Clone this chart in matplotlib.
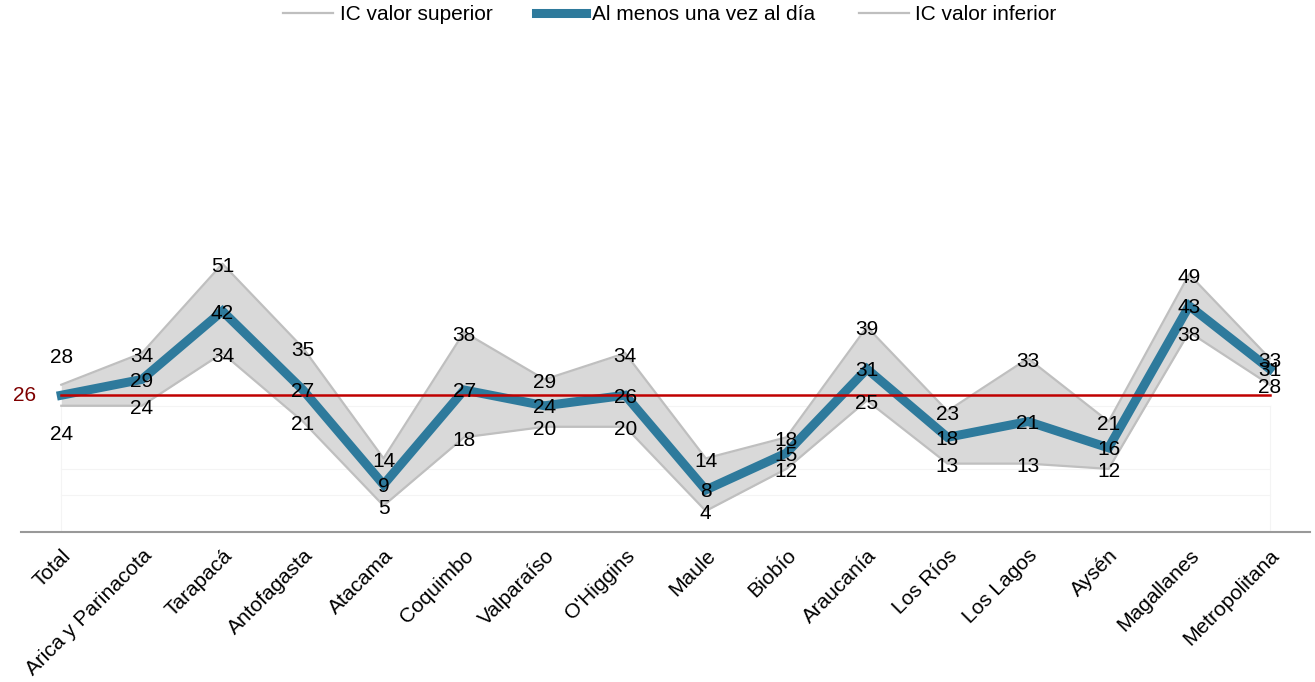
import matplotlib
matplotlib.use("Agg")
import matplotlib.pyplot as plt
import numpy as np

categories = ["Total", "Arica y Parinacota", "Tarapacá", "Antofagasta", "Atacama",
              "Coquimbo", "Valparaíso", "O'Higgins", "Maule", "Biobío", "Araucanía",
              "Los Ríos", "Los Lagos", "Aysén", "Magallanes", "Metropolitana"]
ic_sup = [28, 34, 51, 35, 14, 38, 29, 34, 14, 18, 39, 23, 33, 21, 49, 33]
valor = [26, 29, 42, 27, 9, 27, 24, 26, 8, 15, 31, 18, 21, 16, 43, 31]
ic_inf = [24, 24, 34, 21, 5, 18, 20, 20, 4, 12, 25, 13, 13, 12, 38, 28]
ref_value = 26

plt.rcParams['font.family'] = ['Liberation Sans', 'DejaVu Sans']

fig = plt.figure(figsize=(13.15, 6.82), dpi=100)
ax = fig.add_axes([21/1315, 150/682, (1310-21)/1315, (532-6)/682])

x = np.arange(len(categories))
ax.set_xlim(-0.5, len(categories) - 0.5)
ax.set_ylim(0, 100)

# faint gridlines
for gy in [7, 12, 24]:
    ax.plot([0, len(categories) - 1], [gy, gy], color='#f4f4f4', lw=0.8, zorder=0)
for gx in [0, len(categories) - 1]:
    ax.plot([gx, gx], [0, 24], color='#f4f4f4', lw=0.8, zorder=0)

ax.fill_between(x, ic_inf, ic_sup, color='#d9d9d9', zorder=1, lw=0)
l1, = ax.plot(x, ic_sup, color='#bfbfbf', lw=1.6, zorder=2, label='IC valor superior')
l2, = ax.plot(x, valor, color='#2e7a9c', lw=6.5, zorder=3, solid_joinstyle='miter',
              label='Al menos una vez al día')
l3, = ax.plot(x, ic_inf, color='#bfbfbf', lw=1.6, zorder=2, label='IC valor inferior')

ax.plot([0, len(categories) - 1], [ref_value, ref_value], color='#c00000', lw=1.8, zorder=4)
ax.text(-0.45, ref_value, str(ref_value), color='#7f0000', fontsize=15,
        ha='center', va='center', zorder=5)

fs = 15
for i in range(len(categories)):
    up_off, lo_off = -3, -3
    if i == 0:
        up_off, lo_off = 27, -29
    ax.annotate(str(ic_sup[i]), (x[i], ic_sup[i]), xytext=(0, up_off),
                textcoords='offset pixels', ha='center', va='center', fontsize=fs, zorder=6)
    ax.annotate(str(ic_inf[i]), (x[i], ic_inf[i]), xytext=(0, lo_off),
                textcoords='offset pixels', ha='center', va='center', fontsize=fs, zorder=6)
    if i != 0:
        ax.annotate(str(valor[i]), (x[i], valor[i]), xytext=(0, -2),
                    textcoords='offset pixels', ha='center', va='center', fontsize=fs, zorder=6)

ax.set_xticks(x)
ax.set_xticklabels(categories, rotation=45, ha='right', rotation_mode='anchor', fontsize=15)
ax.tick_params(axis='x', length=0, pad=10)
ax.set_yticks([])
for s in ['top', 'right', 'left']:
    ax.spines[s].set_visible(False)
ax.spines['bottom'].set_color('#999999')
ax.spines['bottom'].set_linewidth(1.5)

fig.legend(handles=[l1, l2, l3], loc='center', bbox_to_anchor=(0.5095, 1 - 15/682),
           ncol=3, frameon=False, fontsize=15, handlelength=2.4, columnspacing=2.1,
           handletextpad=0.3, borderpad=0)

fig.savefig('out.png', dpi=100)
